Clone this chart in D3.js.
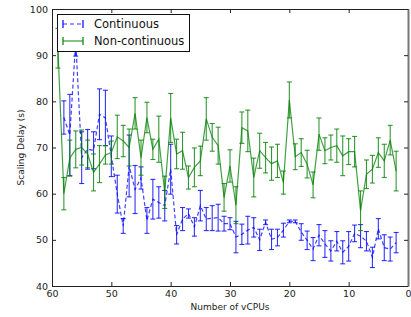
<!DOCTYPE html>
<html>
<head>
<meta charset="utf-8">
<script src="https://cdn.jsdelivr.net/npm/d3@7"></script>
<style>
body { margin: 0; background: #fff; }
text { font-family: "DejaVu Sans", sans-serif; }
</style>
</head>
<body>
<div id="chart"></div>
<script>
// vCPU counts
var contX = [58,57,56,55,54,53,52,51,50,49,48,47,46,45,44,43,42,41,40,39,38,37,36,35,34,33,32,31,30,
             29,28,27,26,25,24,23,22,21,20,19,18,17,16,15,14,13,12,11,10,9,8,7,6,5,4,3,2];
var contMean = [76.5,72.7,93,67.8,69.6,69.4,77.2,76.4,68.1,59.9,53.0,66.0,60.9,63.4,54.2,58.8,58.1,57.4,65.3,51.1,
                54.5,55.7,52.8,57.4,54.5,54.7,54.8,53.5,53.5,50.6,51.2,52.1,52.7,50.0,53.8,50.1,50.5,52.1,54.0,54.0,
                51.7,49.9,48.0,51.0,49.1,47.6,49.7,47.3,48.6,51.4,50.8,49.7,46.2,52.4,48.3,48.0,49.4];
var contErr = [3.6,8.8,3.2,5.6,4.3,4,5.5,6,4.4,4.1,1.6,6.7,5.2,2.4,2.8,4.3,3.4,3.3,5.4,2,
               2.5,1,2,3.3,2.5,2.7,2.9,1.6,1.3,3.4,2.2,3,2.1,2.3,0.5,2.2,1.8,1.5,0.3,0.3,
               1.8,2,2.5,2.3,2.9,2.2,2.1,2.5,3.2,1.8,2.5,2.1,2.2,2.2,2.8,2.6,2.2];

var nonX = [59,58,57,56,55,54,53,52,51,50,49,48,47,46,45,44,43,42,41,40,39,38,37,36,35,34,33,32,31,30,
            29,28,27,26,25,24,23,22,21,20,19,18,17,16,15,14,13,12,11,10,9,8,7,6,5,4,3,2];
var nonMean = [91.5,60.0,67.7,69.6,70.0,68.6,64.6,66.4,68.4,68.9,72.3,71.4,70.0,77.4,67.8,76.5,69.6,71.8,60.3,76.4,
               68.6,69.3,63.5,65.7,67.1,76.2,72.2,70.4,59.2,66.0,57.5,74.3,73.6,63.5,69.3,67.8,66.5,67.1,62.4,80.3,
               68.0,68.9,66.4,61.9,72.9,69.3,70.0,70.4,68.2,69.1,69.1,56.3,64.2,65.3,68.9,67.1,71.6,64.9];
var nonErr = [4.3,3.5,3.9,4,3.8,3,4,4,2,2.5,4.7,3.4,4,3.4,3.8,3.3,2.2,5,3.5,5.3,
              3.2,4,2.5,4.2,3.2,4.6,3,4,3,3.5,4,3.4,4.5,4.2,3.8,3.3,3.6,3.6,2.5,3.9,
              2.8,3,3,2.8,3.5,2.8,2.7,3.6,4.3,2.8,3.3,4.3,3.1,3,3.2,3.6,3.2,4.3];

var xTicks = [60,50,40,30,20,10,0];
var yTicks = [40,50,60,70,80,90,100];
var seriesNames = ['Continuous', 'Non-continuous'];

const width = 411;
const height = 317;
const margin = {left: 52, right: 3, top: 9, bottom: 31};

const svg = d3.select('#chart')
    .append('svg')
    .attr('width', width)
    .attr('height', height);

var x = d3.scaleLinear()
    .domain([60, 0])
    .range([margin.left, width - margin.right]);

var y = d3.scaleLinear()
    .domain([40, 100])
    .range([height - margin.bottom, margin.top]);

svg.append('clipPath').attr('id', 'plotclip')
    .append('rect')
    .attr('x', margin.left).attr('y', margin.top)
    .attr('width', width - margin.left - margin.right)
    .attr('height', height - margin.top - margin.bottom);

function drawSeries(xs, means, errs, color, dash) {
    var pts = xs.map(function(v, i) { return {x: v, m: means[i], e: errs[i]}; });
    var g = svg.append('g').attr('clip-path', 'url(#plotclip)');

    var line = d3.line()
        .x(function(d) { return x(d.x); })
        .y(function(d) { return y(d.m); });

    g.append('path')
        .datum(pts)
        .attr('d', line)
        .attr('fill', 'none')
        .attr('stroke', color)
        .attr('stroke-width', 1.2)
        .attr('stroke-opacity', 0.75)
        .attr('stroke-dasharray', dash);

    var bars = g.selectAll(null)
        .data(pts)
        .enter()
        .append('g')
        .attr('stroke', color)
        .attr('stroke-width', 1.1)
        .attr('stroke-opacity', 0.8);

    bars.append('line')
        .attr('x1', function(d) { return x(d.x); })
        .attr('x2', function(d) { return x(d.x); })
        .attr('y1', function(d) { return y(d.m - d.e); })
        .attr('y2', function(d) { return y(d.m + d.e); });
    bars.append('line')
        .attr('x1', function(d) { return x(d.x) - 2.5; })
        .attr('x2', function(d) { return x(d.x) + 2.5; })
        .attr('y1', function(d) { return y(d.m - d.e); })
        .attr('y2', function(d) { return y(d.m - d.e); });
    bars.append('line')
        .attr('x1', function(d) { return x(d.x) - 2.5; })
        .attr('x2', function(d) { return x(d.x) + 2.5; })
        .attr('y1', function(d) { return y(d.m + d.e); })
        .attr('y2', function(d) { return y(d.m + d.e); });
}

drawSeries(contX, contMean, contErr, '#0000ff', '4,2.5');
drawSeries(nonX, nonMean, nonErr, '#008000', null);

// axes, ticks pointing inward on all four sides
var axBottom = svg.append('g')
    .attr('transform', 'translate(0,' + (height - margin.bottom) + ')')
    .call(d3.axisBottom(x).tickValues(xTicks).tickSizeInner(-4).tickSizeOuter(0).tickPadding(4));
var axTop = svg.append('g')
    .attr('transform', 'translate(0,' + margin.top + ')')
    .call(d3.axisTop(x).tickValues(xTicks).tickSizeInner(-4).tickSizeOuter(0).tickFormat(''));
var axLeft = svg.append('g')
    .attr('transform', 'translate(' + margin.left + ',0)')
    .call(d3.axisLeft(y).tickValues(yTicks).tickSizeInner(-4).tickSizeOuter(0).tickPadding(4));
var axRight = svg.append('g')
    .attr('transform', 'translate(' + (width - margin.right) + ',0)')
    .call(d3.axisRight(y).tickValues(yTicks).tickSizeInner(-4).tickSizeOuter(0).tickFormat(''));

[axBottom, axTop, axLeft, axRight].forEach(function(a) {
    a.selectAll('text').attr('font-size', 9.5).attr('fill', '#222').attr('font-family', '"DejaVu Sans", sans-serif');
    a.selectAll('.tick line').attr('stroke', '#222');
    a.select('.domain').attr('stroke', '#222');
});
axRight.select('.domain').attr('stroke', '#777').attr('stroke-width', 2);

svg.append('text')
    .attr('x', (margin.left + width - margin.right) / 2)
    .attr('y', 310)
    .attr('text-anchor', 'middle')
    .attr('font-size', 9)
    .attr('fill', '#222')
    .text('Number of vCPUs');

svg.append('text')
    .attr('transform', 'translate(24,' + ((margin.top + height - margin.bottom) / 2) + ') rotate(-90)')
    .attr('text-anchor', 'middle')
    .attr('font-size', 9)
    .attr('fill', '#222')
    .text('Scaling Delay (s)');

// legend
var legend = svg.append('g');
legend.append('rect')
    .attr('x', 57.5).attr('y', 14.5)
    .attr('width', 132).attr('height', 37)
    .attr('fill', '#fff')
    .attr('stroke', '#111')
    .attr('stroke-width', 1);

var legColors = ['#0000ff', '#008000'];
var legDash = ['4,3', null];
seriesNames.forEach(function(name, i) {
    var ly = 24 + i * 17;
    var lg = legend.append('g').attr('stroke', legColors[i]).attr('stroke-width', 1.2);
    lg.append('line').attr('x1', 63).attr('x2', 83).attr('y1', ly).attr('y2', ly)
        .attr('stroke-dasharray', legDash[i]).attr('stroke-opacity', 0.8);
    lg.append('line').attr('x1', 63).attr('x2', 63).attr('y1', ly - 4).attr('y2', ly + 4);
    lg.append('line').attr('x1', 83).attr('x2', 83).attr('y1', ly - 4).attr('y2', ly + 4);
    legend.append('text')
        .attr('x', 94)
        .attr('y', ly + 4)
        .attr('font-size', 11.5)
        .attr('fill', '#111')
        .text(name);
});
</script>
</body>
</html>
